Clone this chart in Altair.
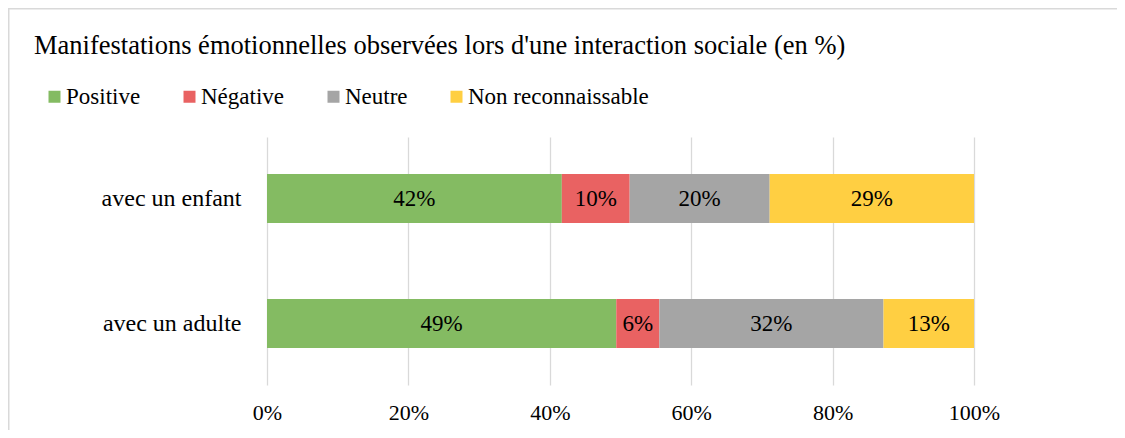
import altair as alt
import pandas as pd

categories = ["avec un enfant", "avec un adulte"]
series = ["Positive", "Négative", "Neutre", "Non reconnaissable"]
enfant = [41.7, 9.6, 19.8, 28.9]
adulte = [49.4, 6.1, 31.7, 12.8]
colors = ["#84BB62", "#E96262", "#A5A5A5", "#FFCF42"]
x_ticks = [0, 20, 40, 60, 80, 100]
title_text = "Manifestations émotionnelles observées lors d'une interaction sociale (en %)"

rows = []
for cat, vals in zip(categories, [enfant, adulte]):
    for i, (s, v) in enumerate(zip(series, vals)):
        rows.append({"cat": cat, "serie": s, "order": i, "value": v,
                     "label": f"{round(v)}%"})
df = pd.DataFrame(rows)

FONT = "'Liberation Serif', 'Times New Roman', Times, serif"
W, H = 707, 248
PL, PT, PR, PB = 259, 129, 143, 45

base = alt.Chart(df).transform_stack(
    stack="value", groupby=["cat"],
    sort=[alt.SortField("order", order="ascending")],
    as_=["x0", "x1"],
).transform_calculate(mid="(datum.x0 + datum.x1) / 2")

yenc = alt.Y("cat:N", sort=categories, title=None,
             scale=alt.Scale(paddingInner=0.608, paddingOuter=0.296),
             axis=alt.Axis(domain=False, ticks=False, labelFontSize=24,
                           labelFont=FONT, labelColor="black",
                           labelPadding=26, labelLimit=300))

bars = base.mark_bar().encode(
    x=alt.X("x0:Q", title=None,
            scale=alt.Scale(domain=[0, 100], nice=False),
            axis=alt.Axis(values=x_ticks, labelExpr="datum.value + '%'",
                          grid=True, gridColor="#D9D9D9", gridWidth=1.3,
                          domain=False, ticks=False, tickSize=0,
                          labelFlush=False, labelOverlap=False,
                          labelFontSize=22, labelFont=FONT, labelColor="black",
                          labelPadding=17)),
    x2="x1:Q",
    y=yenc,
    color=alt.Color("serie:N", scale=alt.Scale(domain=series, range=colors),
                    legend=alt.Legend(orient="none", legendX=-224, legendY=-52,
                                      direction="horizontal", title=None,
                                      symbolType="square", symbolSize=144,
                                      symbolStrokeWidth=0, labelFontSize=23,
                                      labelFont=FONT, labelColor="black",
                                      columnPadding=37, labelOffset=0,
                                      padding=0, labelLimit=400)),
    order=alt.Order("order:Q"),
)

labels = base.mark_text(font=FONT, fontSize=23, color="black",
                        baseline="middle", align="center").encode(
    x="mid:Q",
    y=alt.Y("cat:N", sort=categories),
    text="label:N",
)

one = pd.DataFrame({"a": [0]})
top_border = alt.Chart(one).mark_rule(color="#D9D9D9", strokeWidth=1.5).encode(
    x=alt.value(-PL), x2=alt.value(W + PR), y=alt.value(-PT + 0.75))
left_border = alt.Chart(one).mark_rule(color="#D9D9D9", strokeWidth=1.5).encode(
    x=alt.value(-PL + 0.75), y=alt.value(-PT), y2=alt.value(H + PB))

chart = alt.layer(top_border, left_border, bars, labels).properties(
    width=W, height=H,
    autosize=alt.AutoSizeParams(type="none"),
    padding={"left": PL, "top": PT, "right": PR, "bottom": PB},
    title=alt.Title(title_text, anchor="start", frame="group", dx=-233, dy=73,
                    fontSize=26.5, font=FONT, fontWeight="normal", color="black",
                    baseline="alphabetic", offset=0),
).configure_view(stroke=None)

chart.save("out.html", embed_options={"renderer": "svg", "actions": False})
